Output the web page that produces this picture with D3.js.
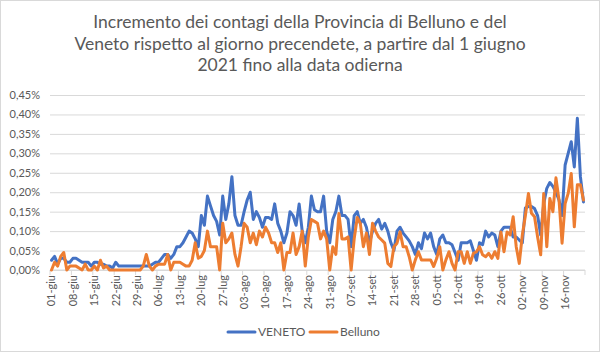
<!DOCTYPE html>
<html><head><meta charset="utf-8">
<script src="https://cdn.jsdelivr.net/npm/d3@7"></script>
<style>body{margin:0;background:#fff}svg{display:block;font-family:Lato,"Liberation Sans",sans-serif}</style>
</head><body><svg id="c" width="600" height="352"></svg>
<script>
const titleLines = ["Incremento dei contagi della Provincia di Belluno e del",
  "Veneto rispetto al giorno precendete, a partire dal 1 giugno",
  "2021 fino alla data odierna"];
const seriesNames = ["VENETO", "Belluno"];
// percent values, one per day from 01-giu-2021 to 22-nov-2021
const veneto = [0.025,0.035,0.015,0.03,0.03,0.02,0.02,0.03,0.03,0.025,0.02,0.02,0.02,0.01,0.02,0.02,0.015,0.015,0.01,0.01,
0.005,0.02,0.01,0.01,0.01,0.01,0.01,0.01,0.01,0.01,0.01,0.01,0.01,0.015,0.02,0.02,0.03,0.04,0.04,0.03,
0.04,0.06,0.06,0.07,0.085,0.10,0.095,0.08,0.06,0.14,0.115,0.19,0.165,0.14,0.125,0.09,0.19,0.13,0.17,0.24,
0.14,0.115,0.115,0.15,0.18,0.20,0.13,0.15,0.135,0.11,0.135,0.135,0.13,0.17,0.12,0.10,0.07,0.095,0.15,0.14,
0.115,0.17,0.10,0.07,0.11,0.19,0.155,0.15,0.15,0.19,0.10,0.07,0.13,0.15,0.19,0.14,0.14,0.13,0.06,0.14,
0.15,0.12,0.13,0.11,0.07,0.10,0.12,0.13,0.105,0.12,0.10,0.07,0.05,0.10,0.11,0.095,0.085,0.075,0.06,0.04,
0.07,0.055,0.095,0.08,0.095,0.06,0.04,0.08,0.09,0.07,0.07,0.065,0.045,0.025,0.07,0.07,0.07,0.075,0.05,0.025,
0.07,0.065,0.10,0.085,0.095,0.09,0.06,0.10,0.11,0.11,0.11,0.085,0.085,0.077,0.07,0.16,0.163,0.163,0.158,0.14,
0.09,0.17,0.21,0.225,0.215,0.20,0.18,0.14,0.27,0.30,0.33,0.265,0.39,0.24,0.175];
const belluno = [0.0,0.02,0.01,0.035,0.045,0.0,0.01,0.01,0.01,0.005,0.0,0.015,0.0,0.0,0.01,0.0,0.025,0.005,0.01,0.0,
0.0,0.0,0.0,0.0,0.0,0.0,0.0,0.0,0.0,0.0,0.01,0.04,0.01,0.0,0.01,0.015,0.015,0.015,0.04,0.0,
0.02,0.02,0.02,0.015,0.01,0.01,0.025,0.07,0.03,0.035,0.05,0.10,0.06,0.06,0.06,0.0,0.12,0.07,0.08,0.095,
0.04,0.01,0.06,0.12,0.11,0.07,0.095,0.065,0.10,0.085,0.11,0.095,0.07,0.07,0.045,0.07,0.0,0.045,0.045,0.095,
0.04,0.06,0.10,0.01,0.085,0.13,0.125,0.12,0.08,0.10,0.08,0.0,0.06,0.04,0.145,0.08,0.08,0.085,0.0,0.08,
0.135,0.12,0.06,0.095,0.04,0.12,0.10,0.085,0.077,0.069,0.017,0.009,0.06,0.069,0.098,0.06,0.06,0.034,0.0,0.026,
0.047,0.026,0.026,0.026,0.026,0.009,0.03,0.06,0.0,0.026,0.047,0.017,0.0,0.047,0.047,0.017,0.047,0.017,0.043,0.047,
0.06,0.039,0.034,0.043,0.03,0.047,0.03,0.098,0.047,0.098,0.09,0.137,0.06,0.017,0.09,0.14,0.197,0.146,0.137,0.085,
0.039,0.197,0.06,0.184,0.15,0.237,0.18,0.069,0.171,0.197,0.248,0.111,0.219,0.219,0.18];
const yTicks = [0,0.05,0.10,0.15,0.20,0.25,0.30,0.35,0.40,0.45];
const tickLabels = ["01-giu","08-giu","15-giu","22-giu","29-giu","06-lug","13-lug","20-lug","27-lug","03-ago",
  "10-ago","17-ago","24-ago","31-ago","07-set","14-set","21-set","28-set","05-ott","12-ott","19-ott","26-ott",
  "02-nov","09-nov","16-nov"];
const dates = d3.timeDay.range(new Date(2021,5,1), new Date(2021,10,23));

const svg = d3.select("#c");
const W = 600, H = 352;
const m = {l:50, r:15, t:95, b:82};
const colors = ["#4472C4", "#ED7D31"];
const grey = "#595959";

svg.append("rect").attr("x",0.5).attr("y",0.5).attr("width",W-1).attr("height",H-1)
  .attr("fill","#fff").attr("stroke","#d9d9d9");

const title = svg.append("text").attr("text-anchor","middle").attr("fill",grey)
  .style("font-size","17.5px");
titleLines.forEach((t,i)=>title.append("tspan").attr("x",W/2).attr("y",28+i*21.7).text(t));

const idx = d3.range(dates.length);
const x = d3.scaleBand().domain(idx).range([m.l, W-m.r]).paddingInner(0).paddingOuter(0);
const y = d3.scaleLinear().domain([0,0.45]).range([H-m.b, m.t]);

const loc = d3.formatLocale({decimal:",", thousands:".", grouping:[3], currency:["€",""]});
const fmt = v => loc.format(".2f")(v) + "%";

const yAxis = svg.append("g").attr("transform",`translate(${m.l},0)`)
  .call(d3.axisLeft(y).tickValues(yTicks).tickFormat(fmt).tickSize(-(W-m.l-m.r)).tickPadding(10));
yAxis.select(".domain").remove();
yAxis.selectAll(".tick line").attr("stroke","#d9d9d9");
yAxis.selectAll(".tick text").attr("fill",grey).style("font-size","11px").style("font-family","Lato");

// x axis
const xg = svg.append("g").attr("transform",`translate(0,${H-m.b})`);
xg.append("line").attr("x1",m.l).attr("x2",W-m.r).attr("stroke","#d9d9d9");
const tickIdx = tickLabels.map((_,i)=>i*7);
xg.selectAll("line.tk").data(tickIdx.concat([dates.length])).join("line").attr("class","tk")
  .attr("x1",d=>d<dates.length?x(d):W-m.r).attr("x2",d=>d<dates.length?x(d):W-m.r)
  .attr("y1",0).attr("y2",5).attr("stroke","#d9d9d9");
xg.selectAll("text").data(tickIdx).join("text")
  .attr("transform",d=>`translate(${x(d)+x.bandwidth()/2},5) rotate(-90)`)
  .attr("text-anchor","end").attr("dy","0.35em").attr("fill",grey)
  .style("font-size","11px").text((d,i)=>tickLabels[i]);

const line = d3.line().x((d,i)=>x(i)+x.bandwidth()/2).y(d=>y(d)).curve(d3.curveLinear);
[veneto, belluno].forEach((s,k)=>{
  svg.append("path").datum(s).attr("d",line).attr("fill","none")
    .attr("stroke",colors[k]).attr("stroke-width",3).attr("stroke-linejoin","round").attr("stroke-linecap","round");
});

// legend
const lg = svg.append("g").attr("transform","translate(0,332)");
const lx = [228, 310];
seriesNames.forEach((n,k)=>{
  lg.append("line").attr("x1",lx[k]).attr("x2",lx[k]+27).attr("stroke",colors[k]).attr("stroke-width",3).attr("stroke-linecap","round");
  lg.append("text").attr("x",lx[k]+30).attr("dy","0.35em").attr("fill",grey).style("font-size","12px").text(n);
});
</script></body></html>
